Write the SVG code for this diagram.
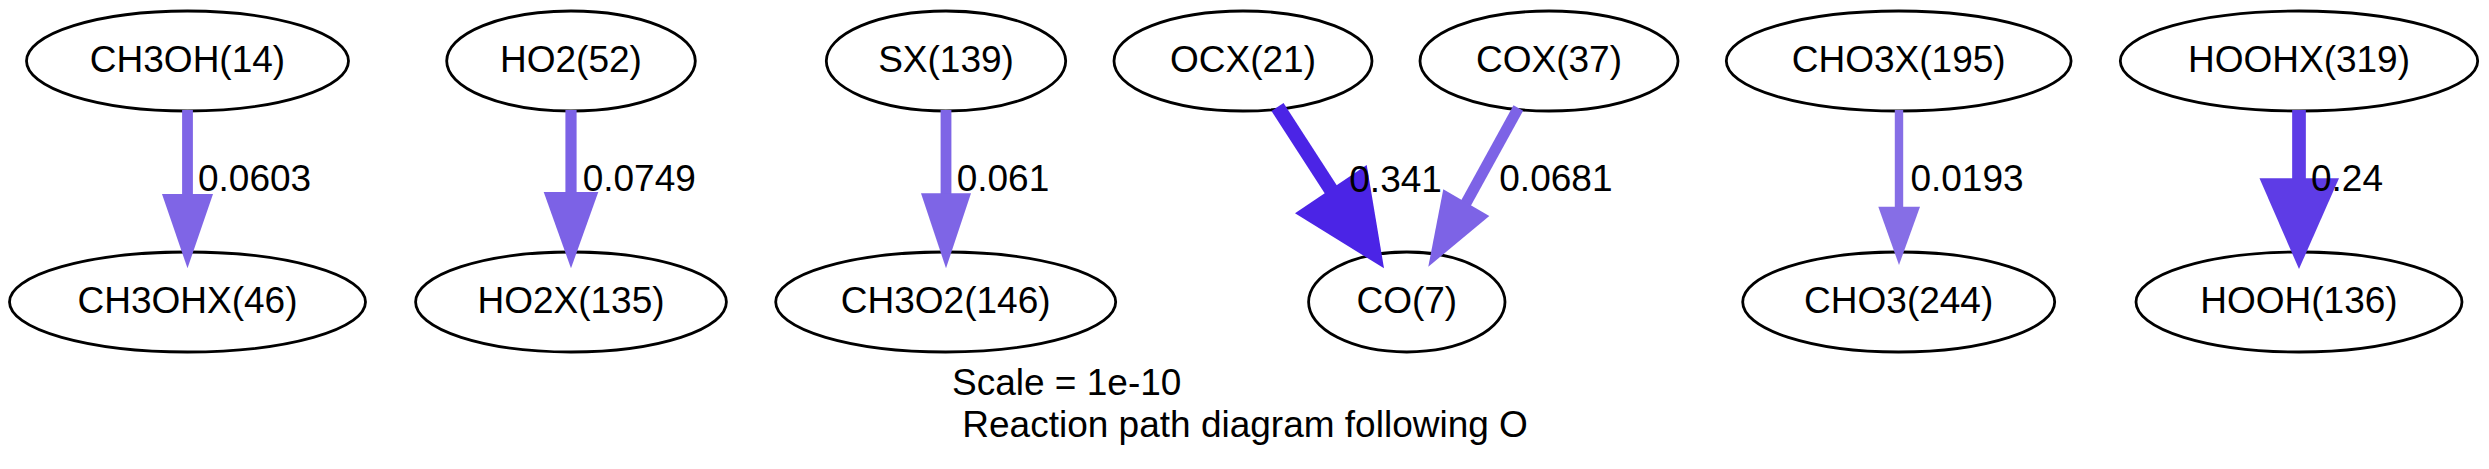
<svg xmlns="http://www.w3.org/2000/svg" width="2489" height="469" viewBox="0 0 2489 469">
<style>
.node ellipse{fill:none;stroke:#000;stroke-width:2.8}
.node text{font-family:"Liberation Sans",Arial,sans-serif;font-size:37px;text-anchor:middle;fill:#000}
.lbl{font-family:"Liberation Sans",Arial,sans-serif;font-size:37px;fill:#000}
.e line{fill:none}
</style>
<rect width="2489" height="469" fill="#fff"/>
<g id="nodes">
<g id="CH3OH14" class="node"><ellipse cx="187.5" cy="61" rx="161" ry="50"/><text x="187.5" y="71.5">CH3OH(14)</text></g>
<g id="CH3OHX46" class="node"><ellipse cx="187.5" cy="302" rx="178" ry="50"/><text x="187.5" y="313">CH3OHX(46)</text></g>
<g id="HO252" class="node"><ellipse cx="571" cy="61" rx="124.3" ry="50"/><text x="571" y="71.5">HO2(52)</text></g>
<g id="HO2X135" class="node"><ellipse cx="571" cy="302" rx="155.4" ry="50"/><text x="571" y="313">HO2X(135)</text></g>
<g id="SX139" class="node"><ellipse cx="946" cy="61" rx="119.7" ry="50"/><text x="946" y="71.5">SX(139)</text></g>
<g id="CH3O2146" class="node"><ellipse cx="945.7" cy="302" rx="170" ry="50"/><text x="945.7" y="313">CH3O2(146)</text></g>
<g id="OCX21" class="node"><ellipse cx="1243" cy="61" rx="129" ry="50"/><text x="1243" y="71.5">OCX(21)</text></g>
<g id="COX37" class="node"><ellipse cx="1549" cy="61" rx="129" ry="50"/><text x="1549" y="71.5">COX(37)</text></g>
<g id="CO7" class="node"><ellipse cx="1406.8" cy="302" rx="98.2" ry="50"/><text x="1406.8" y="313">CO(7)</text></g>
<g id="CHO3X195" class="node"><ellipse cx="1898.7" cy="61" rx="172.4" ry="50"/><text x="1898.7" y="71.5">CHO3X(195)</text></g>
<g id="CHO3244" class="node"><ellipse cx="1898.7" cy="302" rx="156" ry="50"/><text x="1898.7" y="313">CHO3(244)</text></g>
<g id="HOOHX319" class="node"><ellipse cx="2299" cy="61" rx="178.7" ry="50"/><text x="2299" y="71.5">HOOHX(319)</text></g>
<g id="HOOH136" class="node"><ellipse cx="2299" cy="302" rx="163" ry="50"/><text x="2299" y="313">HOOH(136)</text></g>
</g>
<g id="connectors">
<g class="e" id="e1"><line x1="187.5" y1="110" x2="187.5" y2="195" stroke="rgb(127,101,230)" stroke-width="10.8"/><polygon points="162,194 213,194 187.5,268.3" fill="rgb(127,101,230)"/><text class="lbl" x="198" y="191">0.0603</text></g>
<g class="e" id="e2"><line x1="571" y1="110" x2="571" y2="193" stroke="rgb(124,98,230)" stroke-width="11.2"/><polygon points="543.7,192 598.3,192 571,268.3" fill="rgb(124,98,230)"/><text class="lbl" x="582.7" y="191">0.0749</text></g>
<g class="e" id="e3"><line x1="946" y1="110" x2="946" y2="194" stroke="rgb(126,101,230)" stroke-width="10.8"/><polygon points="921,193.3 971,193.3 946,268.3" fill="rgb(126,101,230)"/><text class="lbl" x="956.7" y="191">0.061</text></g>
<g class="e" id="e4"><line x1="1277.5" y1="107" x2="1331.5" y2="190.5" stroke="rgb(75,36,230)" stroke-width="14.4"/><polygon points="1295,213.3 1366.7,165 1384,268.3" fill="rgb(75,36,230)"/><text class="lbl" x="1349.3" y="191.5">0.341</text></g>
<g class="e" id="e5"><line x1="1518.3" y1="108" x2="1465.5" y2="204" stroke="rgb(125,99,230)" stroke-width="11"/><polygon points="1443.3,189.3 1489.3,216 1428.3,266.7" fill="rgb(125,99,230)"/><text class="lbl" x="1499.3" y="191">0.0681</text></g>
<g class="e" id="e6"><line x1="1899" y1="110" x2="1899" y2="207.5" stroke="rgb(134,110,230)" stroke-width="8.4"/><polygon points="1878.3,206.7 1920,206.7 1899,265" fill="rgb(134,110,230)"/><text class="lbl" x="1910.4" y="191">0.0193</text></g>
<g class="e" id="e7"><line x1="2299" y1="110" x2="2299" y2="179" stroke="rgb(94,60,230)" stroke-width="13.7"/><polygon points="2259.5,178.3 2339,178.3 2299,269" fill="rgb(94,60,230)"/><text class="lbl" x="2311" y="191">0.24</text></g>
</g>
<g id="caption">
<text class="lbl" x="952" y="395">Scale = 1e-10</text>
<text class="lbl" x="952" y="436.7" xml:space="preserve"> Reaction path diagram following O</text>
</g>
</svg>
